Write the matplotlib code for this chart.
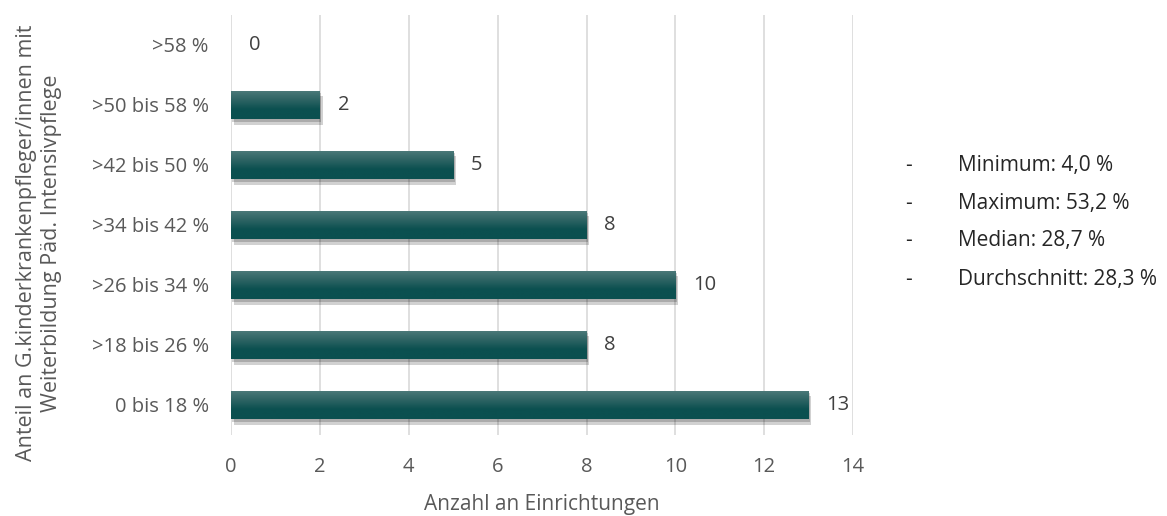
import matplotlib
matplotlib.use("Agg")
import matplotlib.pyplot as plt
import matplotlib.patheffects as pe
import numpy as np
from matplotlib.colors import LinearSegmentedColormap

categories = ['0 bis 18 %', '>18 bis 26 %', '>26 bis 34 %', '>34 bis 42 %',
              '>42 bis 50 %', '>50 bis 58 %', '>58 %']
counts = [13, 8, 10, 8, 5, 2, 0]
stats = ['Minimum: 4,0 %', 'Maximum: 53,2 %', 'Median: 28,7 %', 'Durchschnitt: 28,3 %']

plt.rcParams['font.family'] = ['Open Sans', 'DejaVu Sans']
txt = '#595959'
fs = 14.5

fig = plt.figure(figsize=(11.67, 5.16), dpi=100)
ax = fig.add_axes([0.198, 0.157, 0.533, 0.814])

bars = ax.barh(range(len(categories)), counts, height=0.48, color='#0b5050', zorder=3)
# weiche Schatten + Verlauf von oben
grad = LinearSegmentedColormap.from_list('g', ['#0b5050', '#0b5050', '#2e6464', '#4d7a7a'])
for b in bars:
    b.set_path_effects([pe.SimplePatchShadow(offset=(2, -4), alpha=0.18, shadow_rgbFace='#000000'),
                        pe.SimplePatchShadow(offset=(1, -2), alpha=0.18, shadow_rgbFace='#000000'),
                        pe.Normal()])
    if b.get_width() > 0:
        x0, y0, w, h = b.get_x(), b.get_y(), b.get_width(), b.get_height()
        im = ax.imshow(np.linspace(0, 1, 50).reshape(-1, 1), cmap=grad, aspect='auto',
                       extent=(x0, x0 + w, y0, y0 + h), origin='lower', zorder=4)
        im.set_clip_path(b)

for i, v in enumerate(counts):
    ax.text(v + 0.4, i, str(v), va='center', ha='left', fontsize=fs, color='#404040')

ax.set_xlim(0, 14)
ax.set_ylim(-0.5, len(categories) - 0.5)
ax.set_xticks(range(0, 15, 2))
ax.set_yticks(range(len(categories)))
ax.set_yticklabels(categories)
ax.tick_params(axis='both', length=0, labelsize=fs, colors=txt)
ax.tick_params(axis='x', pad=16)
ax.tick_params(axis='y', pad=16)
ax.grid(axis='x', color='#d9d9d9', linewidth=1.2, zorder=0)
for s in ax.spines.values():
    s.set_visible(False)

ax.set_xlabel('Anzahl an Einrichtungen', fontsize=15, color=txt, labelpad=12)
fig.text(39 / 1167, 1 - 243 / 516,
         'Anteil an G.kinderkrankenpfleger/innen mit\nWeiterbildung Päd. Intensivpflege',
         fontsize=15.5, color=txt, rotation=90, ha='center', va='center',
         multialignment='center', linespacing=1.3)

for k, s in enumerate(stats):
    y = 1 - (165 + 38 * k) / 516
    fig.text(905 / 1167, y, '-', fontsize=15, color='#262626', va='center')
    fig.text(958 / 1167, y, s, fontsize=15, color='#262626', va='center')

fig.savefig('out.png', dpi=100)
